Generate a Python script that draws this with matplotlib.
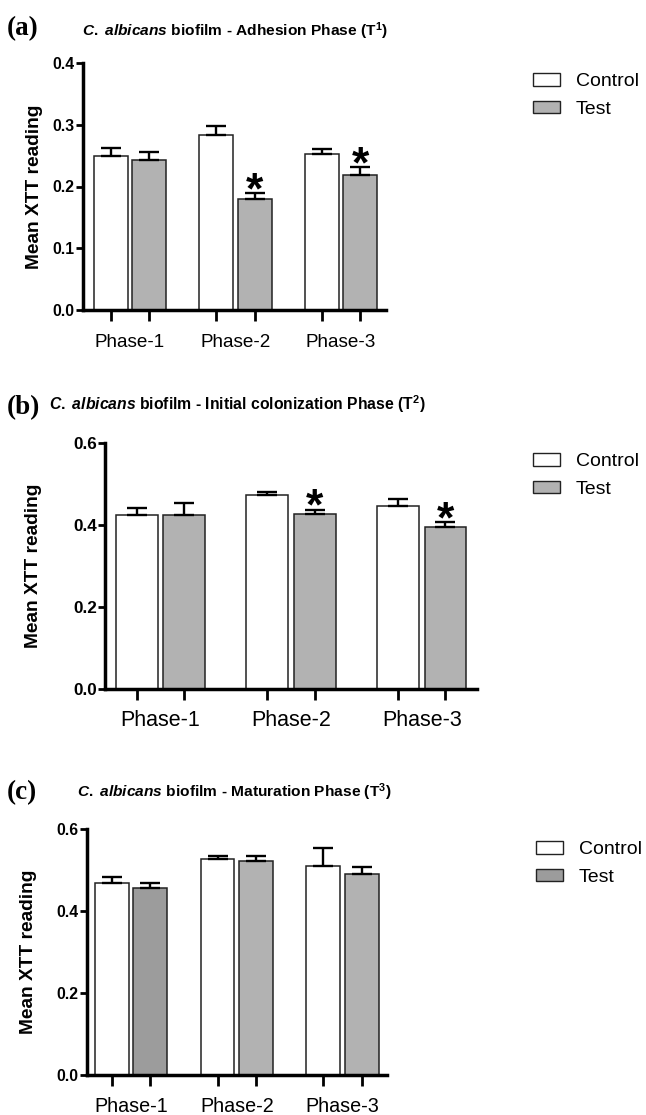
import matplotlib
matplotlib.use('Agg')
import matplotlib.pyplot as plt
from matplotlib import font_manager
from matplotlib.patches import Patch
import numpy as np

# ---------------- data ----------------
phases = ['Phase-1', 'Phase-2', 'Phase-3']
series = ['Control', 'Test']

a_control = [0.250, 0.284, 0.253]
a_control_err = [0.013, 0.014, 0.007]
a_test = [0.243, 0.180, 0.219]
a_test_err = [0.013, 0.009, 0.012]
a_sig = [False, True, True]
a_yticks = [0.0, 0.1, 0.2, 0.3, 0.4]

b_control = [0.425, 0.472, 0.445]
b_control_err = [0.016, 0.009, 0.018]
b_test = [0.424, 0.426, 0.394]
b_test_err = [0.030, 0.011, 0.012]
b_sig = [False, True, True]
b_yticks = [0.0, 0.2, 0.4, 0.6]

c_control = [0.469, 0.526, 0.510]
c_control_err = [0.013, 0.009, 0.044]
c_test = [0.456, 0.522, 0.490]
c_test_err = [0.012, 0.012, 0.018]
c_sig = [False, False, False]
c_yticks = [0.0, 0.2, 0.4, 0.6]

titles = [r'$C.$ $albicans$ biofilm - Adhesion Phase (T$^{1}$)',
          r'$C.$ $albicans$ biofilm - Initial colonization Phase (T$^{2}$)',
          r'$C.$ $albicans$ biofilm - Maturation Phase (T$^{3}$)']
panel_labels = ['(a)', '(b)', '(c)']
ylabel = 'Mean XTT reading'

# ---------------- fonts ----------------
def has_font(name):
    try:
        font_manager.findfont(font_manager.FontProperties(family=name),
                              fallback_to_default=False)
        return True
    except Exception:
        return False

NARROW = has_font('Liberation Sans Narrow')
narrow_family = 'Liberation Sans Narrow' if NARROW else 'Liberation Sans'
scale_n = 1.0 if NARROW else 0.82

plt.rcParams['font.family'] = ['Liberation Sans', 'DejaVu Sans']
plt.rcParams['mathtext.fontset'] = 'custom'
plt.rcParams['mathtext.it'] = narrow_family + ':italic:bold'
plt.rcParams['mathtext.rm'] = narrow_family + ':bold'
plt.rcParams['mathtext.bf'] = narrow_family + ':bold'

W, H = 646, 1115
fig = plt.figure(figsize=(W / 100, H / 100), dpi=100)


def fx(px):
    return px / W


def fy(py):
    return 1 - py / H


def panel(box, control, cerr, test, terr, sig, yticks, test_colors, xlim,
          xfs, yfs, tick_pad):
    left, right, top, bottom = box
    ax = fig.add_axes([fx(left), fy(bottom), fx(right - left), (bottom - top) / H])
    x = np.arange(len(phases))
    off, w = 0.182, 0.32
    ax.bar(x - off, control, w, color='white', edgecolor='#222222', linewidth=1.1, zorder=2)
    ax.bar(x + off, test, w, color=test_colors, edgecolor='#222222', linewidth=1.1, zorder=2)
    ax.errorbar(x - off, control, yerr=[np.zeros(len(x)), cerr], fmt='none', ecolor='black',
                elinewidth=1.7, capsize=7, capthick=1.7, zorder=3)
    ax.errorbar(x + off, test, yerr=[np.zeros(len(x)), terr], fmt='none', ecolor='black',
                elinewidth=1.7, capsize=7, capthick=1.7, zorder=3)
    for i, s in enumerate(sig):
        if s:
            ax.annotate('*', xy=(x[i] + off, test[i] + terr[i]), xytext=(0, -7),
                        textcoords='offset points', ha='center', va='baseline',
                        fontsize=32, fontweight='bold', color='black')
    ax.set_xlim(*xlim)
    ax.set_ylim(yticks[0], yticks[-1])
    ax.set_yticks(yticks)
    ax.set_yticklabels([f'{t:.1f}' for t in yticks], family=narrow_family,
                       fontweight='bold', fontsize=yfs)
    ax.set_xticks(np.concatenate([x - off, x + off]))
    ax.set_xticklabels([])
    ax.set_xticks(x, phases, minor=True)
    ax.tick_params(axis='x', which='major', length=8, width=2.0, direction='out')
    ax.tick_params(axis='x', which='minor', length=0, pad=tick_pad, labelsize=xfs)
    ax.tick_params(axis='y', length=5, width=2.0, pad=1, direction='out')
    for s in ['top', 'right']:
        ax.spines[s].set_visible(False)
    for s in ['left', 'bottom']:
        ax.spines[s].set_linewidth(2.5)
    return ax


tfs = 13.6 * scale_n
# Panel (a)
ax_a = panel((83, 386, 63, 310), a_control, a_control_err, a_test, a_test_err, a_sig,
             a_yticks, ['#b2b2b2'] * 3, (-0.445, 2.427), 13.6, 14 * scale_n, 17)
# Panel (b)
ax_b = panel((105, 476.5, 442.7, 689.3), b_control, b_control_err, b_test, b_test_err, b_sig,
             b_yticks, ['#b2b2b2'] * 3, (-0.424, 2.42), 15.5, 15 * scale_n, 15)
# Panel (c)
ax_c = panel((87, 387, 829, 1075), c_control, c_control_err, c_test, c_test_err, c_sig,
             c_yticks, ['#9c9c9c', '#b2b2b2', '#b2b2b2'], (-0.416, 2.42), 14.2, 14 * scale_n, 16)

# titles and labels
fig.text(fx(82), fy(31), titles[0], fontsize=tfs, family=narrow_family, fontweight='bold',
         ha='left', va='center')
fig.text(fx(49), fy(404), titles[1], fontsize=tfs * 1.02, family=narrow_family,
         fontweight='bold', ha='left', va='center')
fig.text(fx(77), fy(792), titles[2], fontsize=tfs, family=narrow_family, fontweight='bold',
         ha='left', va='center')

for lab, yy in zip(panel_labels, [29, 408, 793]):
    fig.text(fx(7), fy(yy), lab, fontsize=19.5, family=['Liberation Serif', 'DejaVu Serif'],
             fontweight='bold', ha='left', va='center')

for xx, ax in zip([34.5, 34, 29], [ax_a, ax_b, ax_c]):
    bb = ax.get_position()
    fig.text(fx(xx), (bb.y0 + bb.y1) / 2, ylabel, rotation=90, fontsize=13.8,
             fontweight='bold', ha='center', va='center')

# legends
def legend(ax, x_left, y_top, test_color):
    handles = [Patch(facecolor='white', edgecolor='#222222', linewidth=1.0, label=series[0]),
               Patch(facecolor=test_color, edgecolor='#222222', linewidth=1.0, label=series[1])]
    ax.legend(handles=handles, loc='upper left', bbox_to_anchor=(fx(x_left), fy(y_top)),
              bbox_transform=fig.transFigure, frameon=False, fontsize=14,
              handlelength=1.4, handleheight=0.62, handletextpad=0.8,
              labelspacing=0.55, borderpad=0, borderaxespad=0)

legend(ax_a, 533, 73, '#b2b2b2')
legend(ax_b, 533, 453, '#b2b2b2')
legend(ax_c, 536, 841, '#9c9c9c')

fig.savefig('out.png', dpi=100)
